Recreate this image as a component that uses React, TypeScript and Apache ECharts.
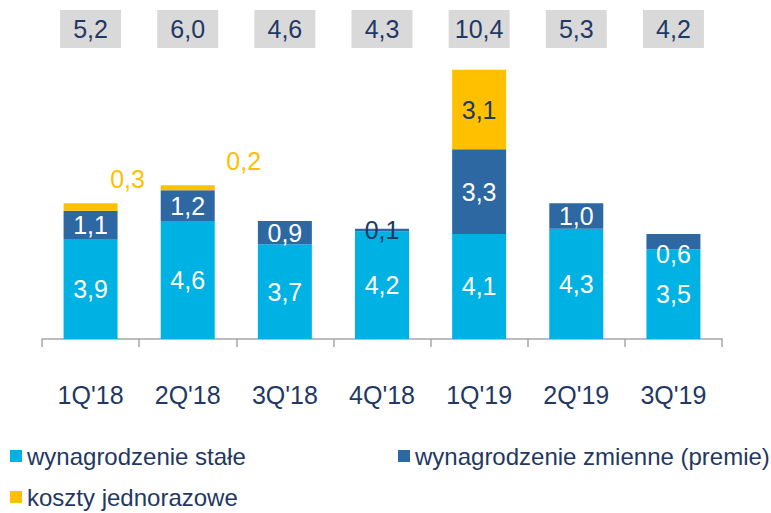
import React, { useEffect, useRef } from "react";
import * as echarts from "echarts";

const categories = ["1Q'18", "2Q'18", "3Q'18", "4Q'18", "1Q'19", "2Q'19", "3Q'19"];
const totals = [5.2, 6.0, 4.6, 4.3, 10.4, 5.3, 4.2];
const fixedPay = [3.9, 4.6, 3.7, 4.2, 4.1, 4.3, 3.5];
const variablePay = [1.1, 1.2, 0.9, 0.1, 3.3, 1.0, 0.6];
const oneOffCosts: (number | null)[] = [0.3, 0.2, null, null, 3.1, null, null];
const seriesNames = [
  "wynagrodzenie stałe",
  "wynagrodzenie zmienne (premie)",
  "koszty jednorazowe",
];

const FONT = "'Liberation Sans', Arial, sans-serif";
const NAVY = "#1F3864";
const LIGHT = "#00B2E3";
const DARK = "#2D68A2";
const YELLOW = "#FFC000";

const fmt = (v: number) => v.toFixed(1).replace(".", ",");

export default function App() {
  const ref = useRef<HTMLDivElement>(null);
  useEffect(() => {
    if (!ref.current) return;
    const chart = echarts.init(ref.current, null, { renderer: "svg" });
    const labelBase = {
      show: true,
      position: "inside",
      color: "#FFFFFF",
      fontSize: 25,
      fontFamily: FONT,
      formatter: (p: any) => fmt(p.value),
    };
    const legendBase = {
      itemWidth: 12,
      itemHeight: 12,
      itemGap: 5,
      padding: 0,
      icon: "rect",
      textStyle: { color: NAVY, fontSize: 24, fontFamily: FONT, lineHeight: 22 },
    };
    chart.setOption({
      animation: false,
      grid: { left: 42, right: 49, top: 57, bottom: 174 },
      xAxis: [
        {
          type: "category",
          data: categories,
          position: "bottom",
          axisLine: { lineStyle: { color: "#A6A6A6", width: 1.5 } },
          axisTick: { show: true, length: 8, lineStyle: { color: "#A6A6A6", width: 1.5 } },
          axisLabel: { color: NAVY, fontSize: 25, fontFamily: FONT, margin: 43 },
        },
        {
          type: "category",
          data: totals.map(fmt),
          position: "top",
          axisLine: { show: false },
          axisTick: { show: false },
          axisLabel: {
            color: NAVY,
            fontSize: 25,
            fontFamily: FONT,
            margin: 28,
            backgroundColor: "#D9D9D9",
            width: 61,
            height: 38,
            lineHeight: 38,
            align: "center",
            verticalAlign: "middle",
          },
        },
      ],
      yAxis: { type: "value", min: 0, max: 11, show: false, splitLine: { show: false } },
      legend: [
        { ...legendBase, data: [seriesNames[0]], left: 10, top: 444 },
        { ...legendBase, data: [seriesNames[1]], left: 398, top: 444 },
        { ...legendBase, data: [seriesNames[2]], left: 10, top: 485 },
      ],
      series: [
        {
          name: seriesNames[0],
          type: "bar",
          stack: "t",
          barWidth: 54,
          itemStyle: { color: LIGHT },
          label: labelBase,
          data: fixedPay,
        },
        {
          name: seriesNames[1],
          type: "bar",
          stack: "t",
          barWidth: 54,
          itemStyle: { color: DARK },
          label: labelBase,
          data: variablePay.map((v, i) => {
            if (i === 3) return { value: v, label: { color: NAVY } };
            if (i === 6) return { value: v, label: { offset: [0, 12] } };
            return v;
          }),
        },
        {
          name: seriesNames[2],
          type: "bar",
          stack: "t",
          barWidth: 54,
          itemStyle: { color: YELLOW },
          label: { ...labelBase, color: NAVY },
          data: oneOffCosts.map((v, i) => {
            if (v === null) return null;
            if (i === 0)
              return { value: v, label: { position: "top", color: YELLOW, offset: [37, -7] } };
            if (i === 1)
              return { value: v, label: { position: "top", color: YELLOW, offset: [56, -7] } };
            return v;
          }),
        },
      ],
    });
    return () => chart.dispose();
  }, []);
  return (
    <div
      ref={ref}
      style={{ position: "fixed", left: 0, top: 0, width: 771, height: 513, background: "#fff" }}
    />
  );
}
